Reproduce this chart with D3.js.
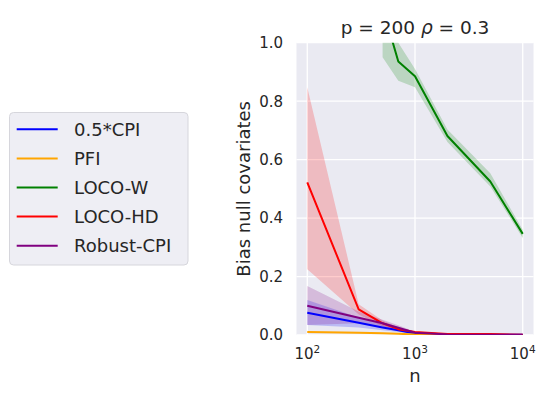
<!DOCTYPE html>
<html><head><meta charset="utf-8">
<script src="https://cdn.jsdelivr.net/npm/d3@7"></script>
<style>body{margin:0;background:#fff;} text{font-family:"DejaVu Sans",sans-serif;fill:#262626;}</style>
</head><body>
<svg id="chart" width="539" height="394"></svg>
<script>
const nValues = [100, 300, 500, 700, 1000, 2000, 5000, 10000];
const seriesNames = ["0.5*CPI", "PFI", "LOCO-W", "LOCO-HD", "Robust-CPI"];
const seriesColors = ["#0000ff", "#ffa500", "#008000", "#ff0000", "#800080"];
const cpiMean = [0.076, 0.042, 0.026, 0.016, 0.005, 0.002, 0.001, 0.001];
const cpiLow  = [0.034, 0.026, 0.016, 0.010, 0.003, 0.001, 0.0005, 0.0005];
const cpiHigh = [0.120, 0.060, 0.036, 0.022, 0.008, 0.003, 0.002, 0.002];
const pfiMean = [0.010, 0.008, 0.006, 0.004, 0.002, 0.001, 0.0005, 0.0003];
const pfiLow  = [0.008, 0.006, 0.004, 0.003, 0.001, 0.0005, 0.0002, 0.0001];
const pfiHigh = [0.012, 0.010, 0.008, 0.005, 0.003, 0.0015, 0.0008, 0.0005];
const locoWMean = [null, null, 1.12, 0.936, 0.885, 0.681, 0.525, 0.346];
const locoWLow  = [null, null, 0.95, 0.870, 0.848, 0.660, 0.508, 0.332];
const locoWHigh = [null, null, 1.30, 1.000, 0.910, 0.703, 0.553, 0.360];
const locoHDMean = [0.522, 0.088, 0.040, 0.020, 0.010, 0.003, 0.003, 0.001];
const locoHDLow  = [0.225, 0.070, 0.030, 0.014, 0.007, 0.002, 0.002, 0.0005];
const locoHDHigh = [0.848, 0.105, 0.050, 0.026, 0.013, 0.004, 0.004, 0.002];
const rcpiMean = [0.100, 0.059, 0.040, 0.025, 0.008, 0.002, 0.001, 0.001];
const rcpiLow  = [0.034, 0.040, 0.028, 0.017, 0.005, 0.001, 0.0005, 0.0005];
const rcpiHigh = [0.168, 0.080, 0.052, 0.033, 0.011, 0.003, 0.002, 0.002];
const yTicks = [0, 0.2, 0.4, 0.6, 0.8, 1.0];
const xTicks = [100, 1000, 10000];
const titleParts = [["p = 200 ", "normal"], ["ρ", "italic"], [" = 0.3", "normal"]];
const xLabel = "n";
const yLabel = "Bias null covariates";

const series = [
  {mean: cpiMean, low: cpiLow, high: cpiHigh},
  {mean: pfiMean, low: pfiLow, high: pfiHigh},
  {mean: locoWMean, low: locoWLow, high: locoWHigh},
  {mean: locoHDMean, low: locoHDLow, high: locoHDHigh},
  {mean: rcpiMean, low: rcpiLow, high: rcpiHigh}
].map((s, i) => ({...s, name: seriesNames[i], color: seriesColors[i]}));

const svg = d3.select("#chart");
const L = 296.5, R = 533.5, T = 42.7, B = 335;
const x = d3.scaleLog().domain([Math.pow(10, 1.9), Math.pow(10, 4.1)]).range([L, R]);
const y = d3.scaleLinear().domain([0, 1]).range([B, T]);

svg.append("rect").attr("x", L).attr("y", T).attr("width", R - L).attr("height", B - T).attr("fill", "#eaeaf2");
svg.append("defs").append("clipPath").attr("id", "clip").append("rect")
  .attr("x", L).attr("y", T).attr("width", R - L).attr("height", B - T);

// grid
const grid = svg.append("g");
grid.selectAll("line.h").data(yTicks).join("line")
  .attr("x1", L).attr("x2", R).attr("y1", d => y(d)).attr("y2", d => y(d))
  .attr("stroke", "#fff").attr("stroke-width", 1.3);
grid.selectAll("line.v").data(xTicks).join("line")
  .attr("y1", T).attr("y2", B).attr("x1", d => x(d)).attr("x2", d => x(d))
  .attr("stroke", "#fff").attr("stroke-width", 1.3);

const plot = svg.append("g").attr("clip-path", "url(#clip)");
series.forEach(s => {
  const idx = nValues.map((_, i) => i).filter(i => s.mean[i] !== null);
  const area = d3.area().x(i => x(nValues[i])).y0(i => y(s.low[i])).y1(i => y(s.high[i]));
  plot.append("path").attr("d", area(idx)).attr("fill", s.color).attr("fill-opacity", 0.2).attr("stroke", "none");
});
series.forEach(s => {
  const idx = nValues.map((_, i) => i).filter(i => s.mean[i] !== null);
  const line = d3.line().x(i => x(nValues[i])).y(i => y(s.mean[i]));
  plot.append("path").attr("d", line(idx)).attr("fill", "none").attr("stroke", s.color)
    .attr("stroke-width", 2).attr("stroke-linejoin", "round");
});

// y tick labels
svg.append("g").selectAll("text").data(yTicks).join("text")
  .attr("x", 283).attr("y", d => y(d)).attr("dy", "0.36em").attr("text-anchor", "end")
  .attr("font-size", 15).text(d => d.toFixed(1));

// x tick labels
const xt = svg.append("g").selectAll("text").data(xTicks).join("text")
  .attr("x", d => x(d)).attr("y", 359).attr("text-anchor", "middle").attr("font-size", 15);
xt.append("tspan").text("10");
xt.append("tspan").attr("dy", -6).attr("font-size", 10.5).text(d => Math.round(Math.log10(d)));

svg.append("text").attr("x", (L + R) / 2).attr("y", 382).attr("text-anchor", "middle").attr("font-size", 18).text(xLabel);
svg.append("text").attr("transform", `translate(250,${(T + B) / 2}) rotate(-90)`).attr("text-anchor", "middle")
  .attr("font-size", 18).text(yLabel);
const title = svg.append("text").attr("x", (L + R) / 2).attr("y", 34).attr("text-anchor", "middle")
  .attr("font-size", 18.5).attr("xml:space", "preserve");
titleParts.forEach(([t, st]) => title.append("tspan").attr("font-style", st).text(t));

// legend
const lg = svg.append("g");
lg.append("rect").attr("x", 9.5).attr("y", 112.5).attr("width", 178.5).attr("height", 152.5).attr("rx", 4)
  .attr("fill", "#eeeef4").attr("stroke", "#d6d6dc").attr("stroke-width", 1);
const rowY = d3.scaleLinear().domain([0, 4]).range([129.3, 245.7]);
series.forEach((s, i) => {
  lg.append("line").attr("x1", 16.7).attr("x2", 57.7).attr("y1", rowY(i)).attr("y2", rowY(i))
    .attr("stroke", s.color).attr("stroke-width", 2);
  lg.append("text").attr("x", 74).attr("y", rowY(i)).attr("dy", "0.36em").attr("font-size", 18).text(s.name);
});
</script>
</body></html>
